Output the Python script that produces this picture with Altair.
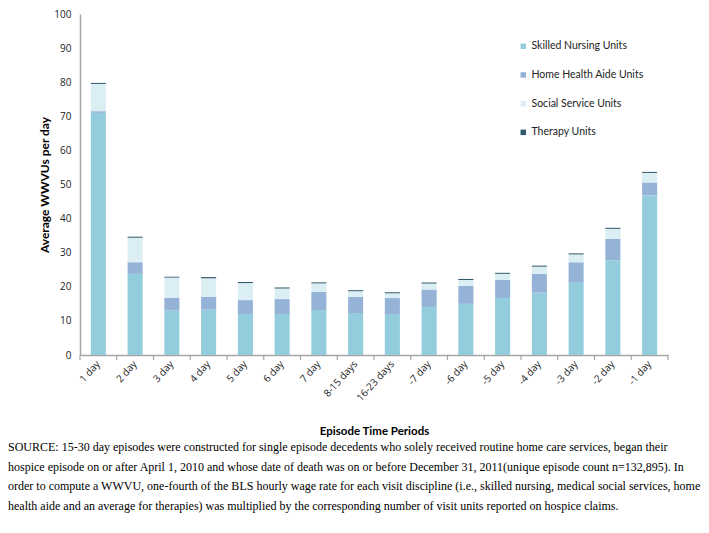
import altair as alt
import pandas as pd

categories = ["1 day", "2 day", "3 day", "4 day", "5 day", "6 day", "7 day",
              "8-15 days", "16-23 days", "-7 day", "-6 day", "-5 day", "-4 day",
              "-3 day", "-2 day", "-1 day"]
skilled_nursing = [71.0, 23.8, 13.1, 13.3, 12.0, 12.0, 13.2, 12.3, 11.8, 14.1, 15.0, 16.7, 18.3, 21.3, 27.8, 46.8]
home_health_aide = [0.5, 3.4, 3.7, 3.8, 4.1, 4.4, 5.3, 4.7, 4.9, 5.1, 5.3, 5.3, 5.5, 5.9, 6.3, 3.8]
social_service = [8.0, 7.2, 5.9, 5.4, 5.0, 3.1, 2.5, 1.7, 1.4, 1.75, 1.7, 1.8, 2.1, 2.3, 2.9, 2.8]
therapy = [0.3, 0.3, 0.25, 0.35, 0.3, 0.3, 0.3, 0.3, 0.3, 0.3, 0.3, 0.3, 0.3, 0.3, 0.3, 0.3]

series_names = ["Skilled Nursing Units", "Home Health Aide Units", "Social Service Units", "Therapy  Units"]
series_values = [skilled_nursing, home_health_aide, social_service, therapy]
series_colors = ["#93CDDD", "#95B3D7", "#DBEEF4", "#31596B"]

source_lines = [
    "SOURCE: 15-30 day episodes were constructed for single episode decedents who solely received routine home care services, began their",
    "hospice episode on or after April 1, 2010 and whose date of death was on or before December 31, 2011(unique episode count n=132,895). In",
    "order to compute a WWVU, one-fourth of the BLS hourly wage rate for each visit discipline (i.e., skilled nursing, medical social services, home",
    "health aide and an average for therapies) was multiplied by the corresponding number of visit units reported on hospice claims.",
]

rows = []
for k, (name, vals) in enumerate(zip(series_names, series_values)):
    for c, v in zip(categories, vals):
        rows.append({"period": c, "series": name, "value": v, "order": k})
df = pd.DataFrame(rows)

x_scale = alt.Scale(paddingInner=0, paddingOuter=0)
H = 341

bars = alt.Chart(df).mark_bar(width=alt.RelativeBandSize(0.41)).encode(
    x=alt.X("period:N", sort=categories, scale=x_scale,
            axis=alt.Axis(title="Episode Time Periods", labelAngle=-48, ticks=False,
                          domainColor="#A6A6A6", domainWidth=1.5, labelFont="Open Sans",
                          labelFontSize=10, labelColor="#222222", labelPadding=7,
                          titleFont="Lato", titleFontSize=11.5, titleFontWeight="bold",
                          titleColor="#000000", titlePadding=23)),
    y=alt.Y("value:Q", stack="zero", scale=alt.Scale(domain=[0, 100]),
            axis=alt.Axis(title="Average  WWVUs per day", values=list(range(0, 101, 10)),
                          grid=False, ticks=False, domainColor="#A6A6A6", domainWidth=1.5,
                          labelFont="Open Sans", labelFontSize=10, labelColor="#222222",
                          labelPadding=9, titleFont="Lato", titleFontSize=12,
                          titleFontWeight="bold", titleColor="#000000", titlePadding=2)),
    color=alt.Color("series:N", sort=series_names,
                    scale=alt.Scale(domain=series_names, range=series_colors),
                    legend=alt.Legend(title=None, orient="none", legendX=438, legendY=27,
                                      symbolType="square", symbolSize=30, symbolStrokeWidth=0,
                                      labelFont="Lato", labelFontSize=10.5, labelColor="#222222",
                                      rowPadding=17.7, labelOffset=3)),
    order=alt.Order("order:Q", sort="ascending"),
)

tick_df = pd.DataFrame({"period": categories})
ticks = alt.Chart(tick_df).mark_rule(color="#A6A6A6", strokeWidth=1.2).encode(
    x=alt.X("period:N", sort=categories, bandPosition=0, scale=x_scale),
    y=alt.value(H),
    y2=alt.value(H + 5),
)
end_tick = alt.Chart(pd.DataFrame({"period": categories[-1:]})).mark_rule(
    color="#A6A6A6", strokeWidth=1.2).encode(
    x=alt.X("period:N", sort=categories, bandPosition=1, scale=x_scale),
    y=alt.value(H),
    y2=alt.value(H + 5),
)

chart = alt.layer(bars, ticks, end_tick).properties(
    width=588,
    height=H,
    autosize=alt.AutoSizeParams(type="none"),
    padding={"left": 72, "top": 6, "right": 33, "bottom": 170},
    title=alt.TitleParams(
        text=source_lines, orient="bottom", anchor="start", dx=-72, offset=5,
        font="Liberation Serif", fontSize=12, fontWeight="normal", color="#000000",
        lineHeight=19.7, frame="group",
    ),
).configure_view(stroke=None)

chart.save("out.html", embed_options={"renderer": "svg", "actions": False})
